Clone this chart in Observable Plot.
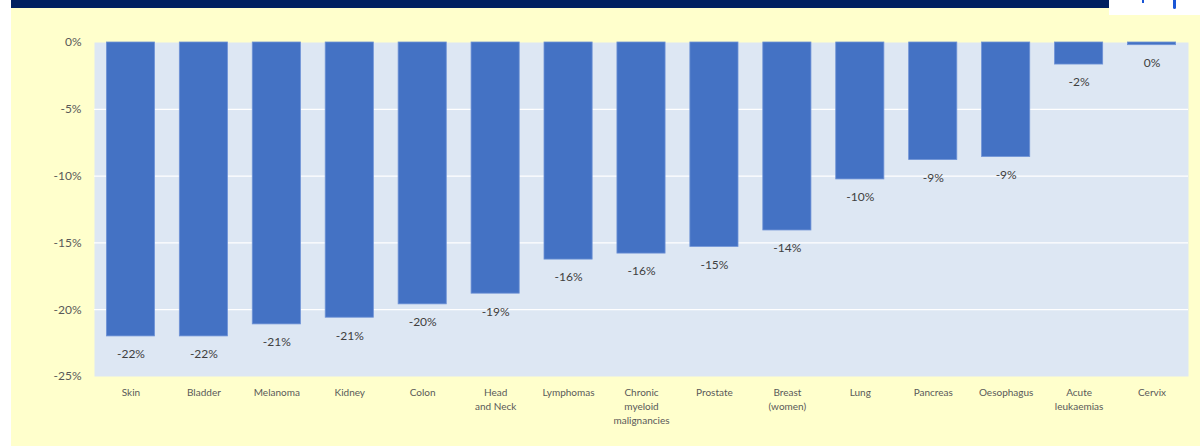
<!DOCTYPE html>
<html>
<head>
<meta charset="utf-8">
<script src="https://cdn.jsdelivr.net/npm/d3@7"></script>
<script src="https://cdn.jsdelivr.net/npm/@observablehq/plot@0.6"></script>
<style>
  html, body { margin: 0; padding: 0; background: #ffffff; }
  #wrap { position: relative; width: 1200px; height: 446px; overflow: hidden; }
  #yellow { position: absolute; left: 11px; top: 0; width: 1189px; height: 446px; background: #FFFFCC; }
  #navy { position: absolute; left: 11px; top: 0; width: 1189px; height: 8px; background: #002060; }
  #logo { position: absolute; left: 1109px; top: 0; width: 91px; height: 15px; background: #ffffff; }
  #logo .m1 { position: absolute; left: 33px; top: 0; width: 2px; height: 3px; background: #1a56d6; }
  #logo .m2 { position: absolute; left: 64px; top: 0; width: 3px; height: 9px; background: #1a56d6; border-radius: 0 0 2px 2px; }
  #chart { position: absolute; left: 0; top: 0; }
</style>
</head>
<body>
<div id="wrap">
  <div id="yellow"></div>
  <div id="navy"></div>
  <div id="logo"><div class="m1"></div><div class="m2"></div></div>
  <div id="chart"></div>
</div>
<script>
const categories = ["Skin", "Bladder", "Melanoma", "Kidney", "Colon", "Head and Neck", "Lymphomas", "Chronic myeloid malignancies", "Prostate", "Breast (women)", "Lung", "Pancreas", "Oesophagus", "Acute leukaemias", "Cervix"];
const tickLabels = ["Skin", "Bladder", "Melanoma", "Kidney", "Colon", "Head\nand Neck", "Lymphomas", "Chronic\nmyeloid\nmalignancies", "Prostate", "Breast\n(women)", "Lung", "Pancreas", "Oesophagus", "Acute\nleukaemias", "Cervix"];
const values = [-22.0, -22.0, -21.1, -20.6, -19.6, -18.8, -16.25, -15.8, -15.3, -14.07, -10.25, -8.8, -8.57, -1.65, -0.2];
const yTicks = [0, -5, -10, -15, -20, -25];

const data = categories.map((c, i) => ({cat: c, value: values[i], tick: tickLabels[i]}));
const tickMap = new Map(data.map(d => [d.cat, d.tick]));

const font = "Lato, 'Open Sans', sans-serif";

const chart = Plot.plot({
  width: 1200,
  height: 446,
  marginLeft: 94,
  marginRight: 12,
  marginTop: 42,
  marginBottom: 70,
  style: { background: "transparent", fontFamily: font, overflow: "visible" },
  x: { domain: categories, paddingInner: 0.34, paddingOuter: 0.17, align: 0.5, round: false, label: null },
  y: { domain: [-25, 0], label: null },
  marks: [
    Plot.frame({ fill: "#DDE7F3", stroke: null }),
    Plot.gridY(yTicks.filter(t => t !== 0 && t !== -25), { stroke: "#ffffff", strokeOpacity: 1, strokeWidth: 1.2 }),
    Plot.barY(data, { x: "cat", y: "value", fill: "#4472C4", stroke: "#6F93D6", strokeWidth: 0.8 }),
    Plot.text(data, {
      x: "cat", y: "value", dy: 18,
      text: d => `${Math.round(d.value) || 0}%`,
      fill: "#404040", fontSize: 12
    }),
    Plot.axisY({
      ticks: yTicks, tickSize: 0, tickPadding: 13,
      tickFormat: d => `${d}%`, fontSize: 12, color: "#595959", label: null
    }),
    Plot.axisX({
      tickSize: 0, tickPadding: 10, fontSize: 10, color: "#595959",
      tickFormat: c => tickMap.get(c), lineHeight: 1.4, label: null
    })
  ]
});
document.getElementById("chart").appendChild(chart);
</script>
</body>
</html>
